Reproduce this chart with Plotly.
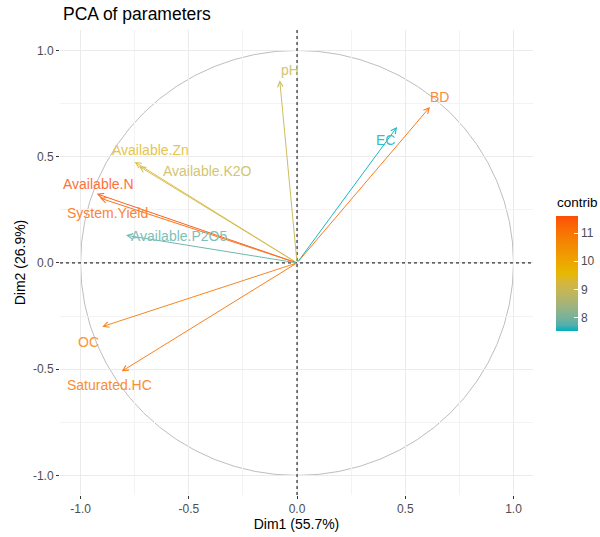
import plotly.graph_objects as go
from plotly.colors import sample_colorscale

# ---- data ----
variables = ["pH", "BD", "EC", "Available.Zn", "Available.K2O", "Available.N",
             "System.Yield", "Available.P2O5", "OC", "Saturated.HC"]
dim1 = [-0.08, 0.614, 0.462, -0.75, -0.73, -0.925, -0.91, -0.79, -0.90, -0.81]
dim2 = [0.86, 0.734, 0.64, 0.475, 0.455, 0.325, 0.305, 0.13, -0.30, -0.51]
contrib = [9.0, 11.1, 7.5, 9.4, 9.0, 11.6, 11.25, 7.8, 10.9, 11.05]

# label pixel offsets (layout only)
label_dx = [10, 10, -12, 16, 68, 2, 7, 53, -14, -12]
label_dy = [10, 10, -13, 12, -5, 10, -15, -1, -15, -14]

gradient_colors = ["#00AFBB", "#E7B800", "#FC4E07"]
cmin, cmax = 7.5, 11.6

FONT = "Liberation Sans, Arial, sans-serif"


# ---- Lab interpolation (like ggplot2's gradientn) ----
def hex2rgb(h):
    h = h.lstrip("#")
    return [int(h[i:i + 2], 16) / 255 for i in (0, 2, 4)]


def srgb2lin(c):
    return c / 12.92 if c <= 0.04045 else ((c + 0.055) / 1.055) ** 2.4


def lin2srgb(c):
    c = min(max(c, 0), 1)
    return 12.92 * c if c <= 0.0031308 else 1.055 * c ** (1 / 2.4) - 0.055


WHITE = (0.95047, 1.0, 1.08883)


def rgb2lab(rgb):
    r, g, b = [srgb2lin(c) for c in rgb]
    X = 0.4124 * r + 0.3576 * g + 0.1805 * b
    Y = 0.2126 * r + 0.7152 * g + 0.0722 * b
    Z = 0.0193 * r + 0.1192 * g + 0.9505 * b

    def f(t):
        return t ** (1 / 3) if t > 0.008856 else 7.787 * t + 16 / 116
    fx, fy, fz = f(X / WHITE[0]), f(Y / WHITE[1]), f(Z / WHITE[2])
    return [116 * fy - 16, 500 * (fx - fy), 200 * (fy - fz)]


def lab2rgb(lab):
    L, a, b = lab
    fy = (L + 16) / 116
    fx = fy + a / 500
    fz = fy - b / 200

    def finv(t):
        return t ** 3 if t ** 3 > 0.008856 else (t - 16 / 116) / 7.787
    X, Y, Z = finv(fx) * WHITE[0], finv(fy) * WHITE[1], finv(fz) * WHITE[2]
    r = 3.2406 * X - 1.5372 * Y - 0.4986 * Z
    g = -0.9689 * X + 1.8758 * Y + 0.0415 * Z
    bb = 0.0557 * X - 0.2040 * Y + 1.0570 * Z
    return [lin2srgb(c) for c in (r, g, bb)]


labs = [rgb2lab(hex2rgb(c)) for c in gradient_colors]
colorscale = []
N = 20
for i in range(N + 1):
    t = i / N
    seg = min(int(t * 2), 1)
    u = t * 2 - seg
    lab = [labs[seg][k] * (1 - u) + labs[seg + 1][k] * u for k in range(3)]
    r, g, b = lab2rgb(lab)
    colorscale.append([t, "rgb(%d,%d,%d)" % (round(r * 255), round(g * 255), round(b * 255))])

fig = go.Figure()

# invisible markers carrying the colour bar
fig.add_trace(go.Scatter(
    x=dim1, y=dim2, mode="markers", hoverinfo="skip", showlegend=False,
    marker=dict(size=1, opacity=0, color=contrib, colorscale=colorscale,
                cmin=cmin, cmax=cmax, showscale=True,
                colorbar=dict(
                    thickness=22, len=115, lenmode="pixels",
                    xref="container", yref="container",
                    x=556 / 600, xanchor="left", y=0.411, yanchor="middle",
                    xpad=0, ypad=0,
                    tickvals=[8, 9, 10, 11], ticks="inside", ticklen=4,
                    tickcolor="white", outlinewidth=0,
                    tickfont=dict(family=FONT, size=12, color="#4D4D4D")))))

norm = [(c - cmin) / (cmax - cmin) for c in contrib]
colors = sample_colorscale(colorscale, norm)


def lighten(col, amt):
    vals = [float(v) for v in col[col.index("(") + 1:-1].split(",")]
    vals = [v + (255 - v) * amt for v in vals]
    return "rgb(%d,%d,%d)" % tuple(round(v) for v in vals)


annotations = []
for name, x, y, col, dx, dy in zip(variables, dim1, dim2, colors, label_dx, label_dy):
    annotations.append(dict(
        x=x, y=y, ax=0, ay=0, xref="x", yref="y", axref="x", ayref="y",
        text="", showarrow=True, arrowhead=5, arrowsize=1.1, arrowwidth=1,
        arrowcolor=lighten(col, 0.1), standoff=0))
    annotations.append(dict(
        x=x, y=y, xref="x", yref="y", text=name, showarrow=False,
        xshift=dx, yshift=dy, xanchor="center", yanchor="middle",
        font=dict(family=FONT, size=14, color=lighten(col, 0.2))))

# colour bar title
annotations.append(dict(
    text="contrib", xref="paper", yref="paper",
    x=(555 - 60) / 473, y=(495 - 202) / 465, xanchor="left", yanchor="middle",
    showarrow=False, font=dict(family=FONT, size=13.5, color="#000000")))

shapes = [
    dict(type="circle", xref="x", yref="y", x0=-1, y0=-1, x1=1, y1=1,
         line=dict(color="#BEBEBE", width=1), layer="below"),
    dict(type="line", xref="x", yref="paper", x0=0, x1=0, y0=0, y1=1,
         line=dict(color="black", width=1, dash="3px,3px")),
    dict(type="line", xref="paper", yref="y", x0=0, x1=1, y0=0, y1=0,
         line=dict(color="black", width=1, dash="3px,3px")),
]

axis_common = dict(
    showgrid=True, gridcolor="#EBEBEB", gridwidth=1,
    zeroline=False, showline=False, automargin=False,
    ticks="outside", ticklen=3, tickcolor="#333333", tickwidth=1,
    tickfont=dict(family=FONT, size=12, color="#4D4D4D"),
    tickvals=[-1.0, -0.5, 0.0, 0.5, 1.0],
    ticktext=["-1.0", "-0.5", "0.0", "0.5", "1.0"],
    minor=dict(dtick=0.25, tick0=0, showgrid=True, gridcolor="#F3F3F3",
               gridwidth=0.6, ticks=""),
)

fig.update_layout(
    width=600, height=537,
    margin=dict(l=60, r=67, t=30, b=42),
    plot_bgcolor="white", paper_bgcolor="white",
    title=dict(text="PCA of parameters", x=63 / 600, xanchor="left",
               y=1 - 14 / 537, yanchor="middle",
               font=dict(family=FONT, size=17.5, color="#000000")),
    xaxis=dict(range=[-1.095, 1.09],
               title=dict(text="Dim1 (55.7%)", standoff=2,
                          font=dict(family=FONT, size=14, color="#000000")),
               **axis_common),
    yaxis=dict(range=[-1.092, 1.096],
               title=dict(text="Dim2 (26.9%)", standoff=4,
                          font=dict(family=FONT, size=14, color="#000000")),
               **axis_common),
    annotations=annotations, shapes=shapes,
    showlegend=False,
)

fig.write_html("out.html",
               config={"displayModeBar": False},
               post_script="document.body.style.margin='0';"
                           "document.body.style.overflow='hidden';")
